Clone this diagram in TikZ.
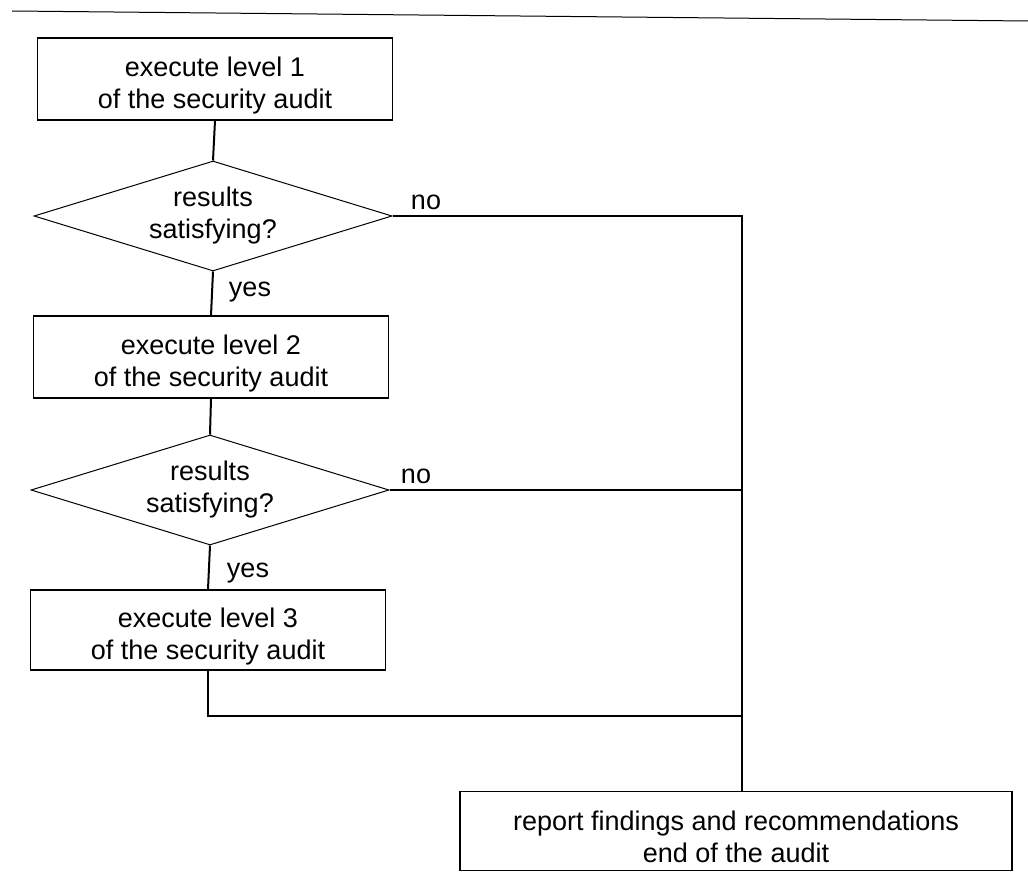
\documentclass[tikz,border=0pt]{standalone}
\usepackage{fontspec}
\setmainfont{Liberation Sans}
\usetikzlibrary{shapes.geometric}
% a tall strut on the first line sets box texts slightly below centre
\newcommand\lowfirst{\rule{0pt}{32pt}}
\begin{document}
\begin{tikzpicture}[x=1pt,y=-1pt,
  every node/.style={font=\fontsize{27}{32}\selectfont},
  stepbox/.style={draw, line width=1.1pt, minimum width=355pt, minimum height=82pt,
                  align=center, inner sep=0pt},
  test/.style={draw, diamond, aspect=3.3, inner sep=0pt, minimum width=358pt,
               minimum height=110pt, align=center, line width=1pt},
  flow/.style={line width=2pt},
  lbl/.style={inner sep=0pt}]
\useasboundingbox (0,0) rectangle (1028,877);

% header rule
\draw[line width=1pt] (12,11) -- (1028,21);

% audit steps and decisions
\node[stepbox] (b1) at (215,79) {\lowfirst execute level 1\\of the security audit};
\node[test] (d1) at (213,216) {results\\satisfying?};
\node[stepbox] (b2) at (211,357) {\lowfirst execute level 2\\of the security audit};
\node[test] (d2) at (210,490) {results\\satisfying?};
\node[stepbox, minimum height=80pt] (b3) at (208,630) {\lowfirst execute level 3\\of the security audit};
\node[stepbox, minimum width=552pt, minimum height=79pt] (report) at (736,831)
  {\lowfirst report findings and recommendations\\end of the audit};

% branch labels
\node[lbl] (no1) at (426,202) {no};
\node[lbl] (no2) at (416,476) {no};
\node[lbl] (yes1) at (250,292) {yes};
\node[lbl] (yes2) at (248,573) {yes};

% collecting trunk on the right
\coordinate (trunk) at (742,0);
\coordinate (m3) at (742,716);

% main sequence
\draw[flow] (b1.south) -- (d1.north);
\draw[flow] (d1.south) -- (b2.north);
\draw[flow] (b2.south) -- (d2.north);
\draw[flow] (d2.south) -- (b3.north);

% exits to the report
\draw[flow] (d1.east) -- (d1.east -| trunk) -- (report.north -| trunk);
\draw[flow] (d2.east) -- (d2.east -| trunk);
\draw[flow] (b3.south) |- (m3);
\end{tikzpicture}
\end{document}
